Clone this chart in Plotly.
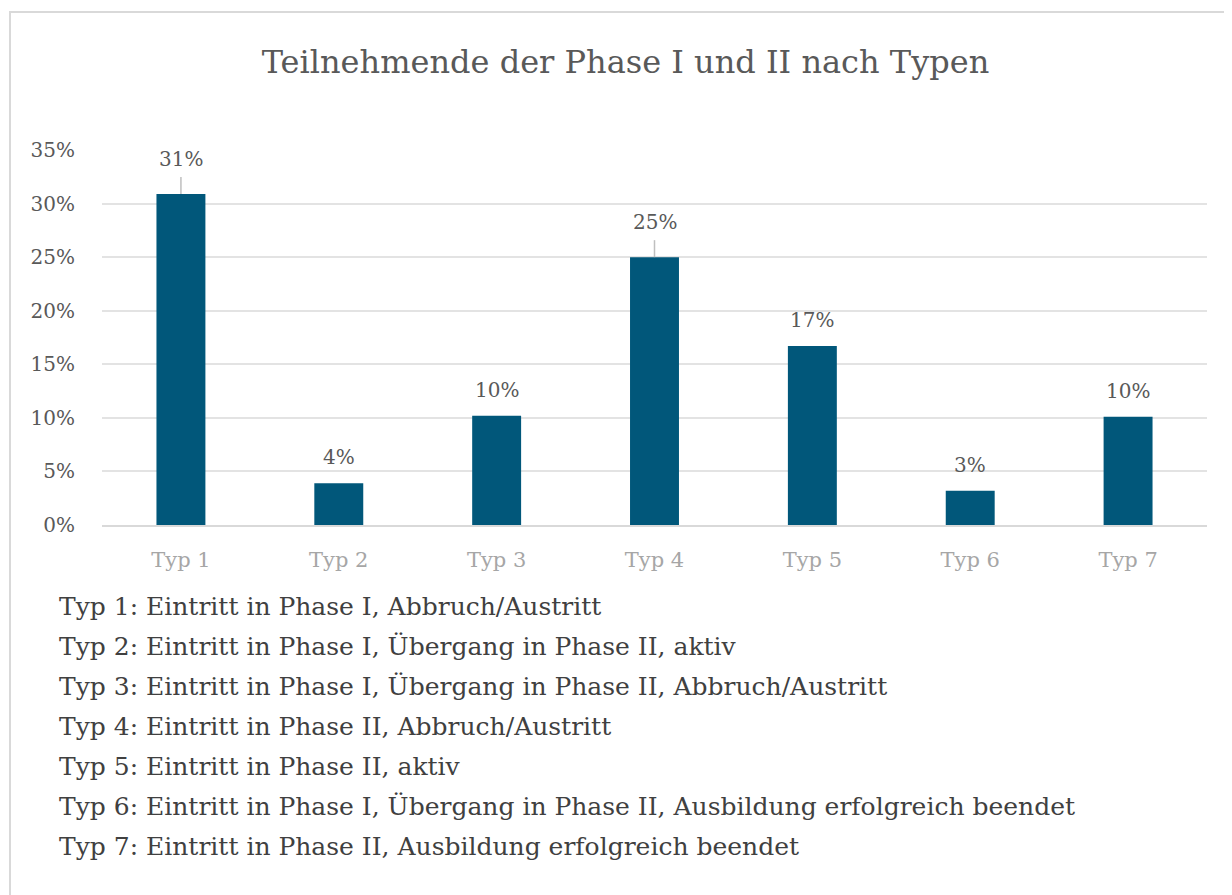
import plotly.graph_objects as go

categories = ["Typ 1", "Typ 2", "Typ 3", "Typ 4", "Typ 5", "Typ 6", "Typ 7"]
shares = [0.309, 0.039, 0.102, 0.250, 0.167, 0.032, 0.101]
label_texts = ["31%", "4%", "10%", "25%", "17%", "3%", "10%"]
legend_lines = [
    "Typ 1: Eintritt in Phase I, Abbruch/Austritt",
    "Typ 2: Eintritt in Phase I, Übergang in Phase II, aktiv",
    "Typ 3: Eintritt in Phase I, Übergang in Phase II, Abbruch/Austritt",
    "Typ 4: Eintritt in Phase II, Abbruch/Austritt",
    "Typ 5: Eintritt in Phase II, aktiv",
    "Typ 6: Eintritt in Phase I, Übergang in Phase II, Ausbildung erfolgreich beendet",
    "Typ 7: Eintritt in Phase II, Ausbildung erfolgreich beendet",
]
title_text = "Teilnehmende der Phase I und II nach Typen"
y_ticks = [0, 0.05, 0.10, 0.15, 0.20, 0.25, 0.30, 0.35]

# style
FONT = "DejaVu Serif"
BAR = "#01577a"
label_shift = [35, 26, 26, 35, 26, 26, 26]
leader = [True, False, False, True, False, False, False]

OFF = 8  # page body margin
W, H = 1232 - OFF, 895 - OFF
L, R, T, B = 102 - OFF, 25, 150 - OFF, 370
PW, PH = W - L - R, H - T - B


def px_x(xp):
    return (xp - OFF - L) / PW


def px_y(yp):
    return (T + PH - (yp - OFF)) / PH


fig = go.Figure(go.Bar(
    x=categories, y=shares, marker_color=BAR, marker_line_width=0,
    width=0.31, hoverinfo="skip"))

annotations = []
shapes = []
for c, v, t, s, ld in zip(categories, shares, label_texts, label_shift, leader):
    annotations.append(dict(x=c, y=v, xref="x", yref="y", text=t, showarrow=False,
                            yshift=s, yanchor="middle",
                            font=dict(family=FONT, size=20, color="#595959")))
    if ld:
        shapes.append(dict(type="line", xref="x", yref="y", ysizemode="pixel",
                           yanchor=v, x0=c, x1=c, y0=0, y1=17,
                           line=dict(color="#bfbfbf", width=1.5)))

for i, line in enumerate(legend_lines):
    ypix = 606 + 40 * i
    annotations.append(dict(x=px_x(57), y=px_y(ypix), xref="paper", yref="paper",
                            text=line, showarrow=False, xanchor="left", yanchor="middle",
                            font=dict(family=FONT, size=25, color="#404040")))

# outer chart border
shapes.append(dict(type="rect", xref="paper", yref="paper",
                   x0=px_x(10), x1=px_x(1245),
                   y0=px_y(905), y1=px_y(12),
                   line=dict(color="#d9d9d9", width=2), fillcolor="rgba(0,0,0,0)", layer="below"))

fig.update_layout(
    width=W, height=H,
    margin=dict(l=L, r=R, t=T, b=B, autoexpand=False),
    paper_bgcolor="white", plot_bgcolor="white",
    showlegend=False,
    title=dict(text=title_text, x=px_x(625.5), xref="paper", xanchor="center",
               y=1 - (62 - OFF) / H, yref="container", yanchor="middle",
               font=dict(family=FONT, size=32, color="#595959")),
    xaxis=dict(showgrid=False, showline=True, linecolor="#d9d9d9", linewidth=2,
               ticks="", tickfont=dict(family=FONT, size=21, color="#a6a6a6"),
               ticklabelstandoff=15),
    yaxis=dict(range=[0, 0.35], tickvals=y_ticks, tickformat=".0%",
               showgrid=True, gridcolor="#e3e3e3", gridwidth=2, zeroline=False,
               showline=False, ticks="",
               tickfont=dict(family=FONT, size=20, color="#595959"),
               ticklabelstandoff=26),
    annotations=annotations,
    shapes=shapes,
    bargap=0.69,
)

fig.write_html("out.html")
